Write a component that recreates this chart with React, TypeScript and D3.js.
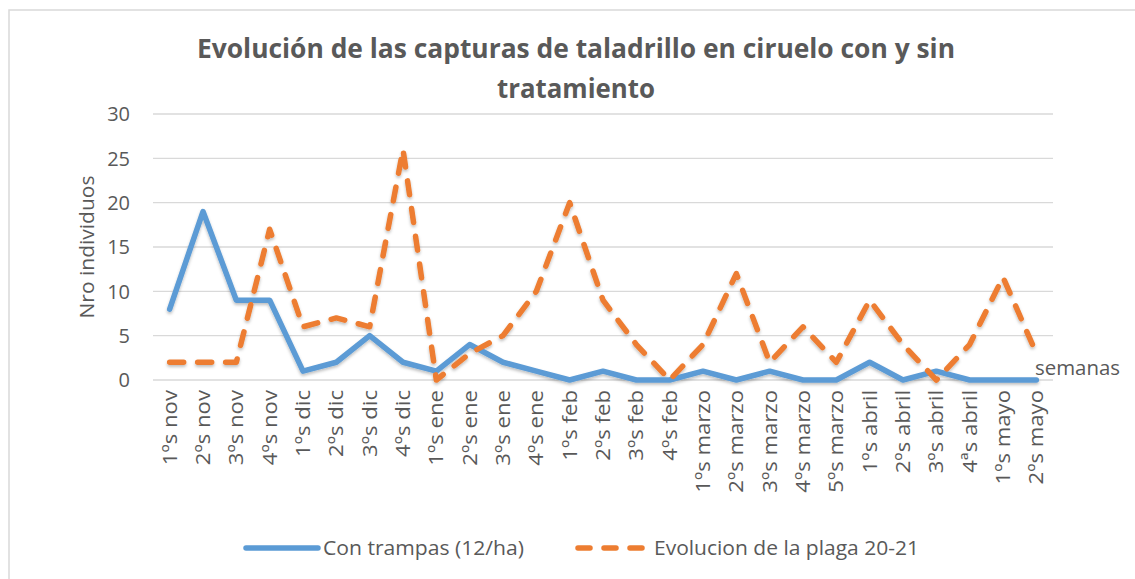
import React from "react";
import * as d3 from "d3";

const categories = [
  "1ºs nov", "2ºs nov", "3ºs nov", "4ºs nov",
  "1ºs dic", "2ºs dic", "3ºs dic", "4ºs dic",
  "1ºs ene", "2ºs ene", "3ºs ene", "4ºs ene",
  "1ºs feb", "2ºs feb", "3ºs feb", "4ºs feb",
  "1ºs marzo", "2ºs marzo", "3ºs marzo", "4ºs marzo", "5ºs marzo",
  "1ºs abril", "2ºs abril", "3ºs abril", "4ªs abril",
  "1ºs mayo", "2ºs mayo",
];
const conTrampas = [8, 19, 9, 9, 1, 2, 5, 2, 1, 4, 2, 1, 0, 1, 0, 0, 1, 0, 1, 0, 0, 2, 0, 1, 0, 0, 0];
const evolucionPlaga = [2, 2, 2, 17, 6, 7, 6, 26, 0, 3, 5, 10, 20, 9, 4, 0, 4, 12, 2, 6, 2, 9, 4, 0, 4, 11.6, 3];
const yTicks = [0, 5, 10, 15, 20, 25, 30];
const seriesNames = ["Con trampas (12/ha)", "Evolucion de la plaga 20-21"];
const titleLines = ["Evolución de las capturas de taladrillo en ciruelo con y sin", "tratamiento"];

const BLUE = "#5B9BD5";
const ORANGE = "#ED7D31";
const TEXT = "#595959";
const FONT = "'Open Sans', 'Noto Sans', sans-serif";

export default function App() {
  const W = 1135, H = 579;
  const left = 153, right = 1053, top = 114, bottom = 380;
  const x = d3.scaleBand<string>().domain(categories).range([left, right]);
  const y = d3.scaleLinear().domain([0, 30]).range([bottom, top]);
  const cx = (c: string) => (x(c) as number) + x.bandwidth() / 2;
  const line = d3.line<number>().x((_, i) => cx(categories[i])).y((d) => y(d));

  return (
    <svg width={W} height={H} style={{ position: "absolute", left: 0, top: 0, background: "#fff" }} fontFamily={FONT}>
      <defs>
        <filter id="sh" x="-5%" y="-5%" width="110%" height="120%">
          <feDropShadow dx="0" dy="2" stdDeviation="1.5" floodColor="#000" floodOpacity="0.25" />
        </filter>
      </defs>
      <rect x={9} y={10} width={W + 20} height={H + 20} fill="#fff" stroke="#D9D9D9" strokeWidth={1.5} />
      <text x={576} y={58} textAnchor="middle" fontSize={26} fontWeight="bold" fill={TEXT} textLength={758} lengthAdjust="spacingAndGlyphs">{titleLines[0]}</text>
      <text x={576} y={98} textAnchor="middle" fontSize={26} fontWeight="bold" fill={TEXT} textLength={158} lengthAdjust="spacingAndGlyphs">{titleLines[1]}</text>

      {yTicks.map((t) => (
        <g key={t}>
          <line x1={left} x2={right} y1={y(t)} y2={y(t)} stroke="#D9D9D9" strokeWidth={1.3} />
          <text x={130} y={y(t)} dy="0.36em" textAnchor="end" fontSize={20} fill={TEXT}>{t}</text>
        </g>
      ))}
      <text transform={`translate(94,247) rotate(-90)`} textAnchor="middle" fontSize={20} fill={TEXT} textLength={143} lengthAdjust="spacingAndGlyphs">Nro individuos</text>

      {categories.map((c) => (
        <text key={c} transform={`translate(${cx(c) + 7},390) rotate(-90) scale(1.08,1)`} textAnchor="end" fontSize={20.5} fill={TEXT}>{c}</text>
      ))}
      <text x={1035} y={375} fontSize={20} fill={TEXT} textLength={85} lengthAdjust="spacingAndGlyphs">semanas</text>

      <g filter="url(#sh)">
        <path d={line(conTrampas) || ""} fill="none" stroke={BLUE} strokeWidth={5.5} strokeLinejoin="round" strokeLinecap="round" />
        <path d={line(evolucionPlaga) || ""} fill="none" stroke={ORANGE} strokeWidth={5.5} strokeLinejoin="round" strokeLinecap="round" strokeDasharray="14 14" />
      </g>

      <line x1={246} x2={318} y1={548} y2={548} stroke={BLUE} strokeWidth={5.5} strokeLinecap="round" />
      <text x={323} y={548} dy="0.36em" fontSize={20} fill={TEXT} textLength={201} lengthAdjust="spacingAndGlyphs">{seriesNames[0]}</text>
      <line x1={578} x2={650} y1={548} y2={548} stroke={ORANGE} strokeWidth={5.5} strokeLinecap="round" strokeDasharray="12 14" />
      <text x={654} y={548} dy="0.36em" fontSize={20} fill={TEXT} textLength={265} lengthAdjust="spacingAndGlyphs">{seriesNames[1]}</text>
    </svg>
  );
}
